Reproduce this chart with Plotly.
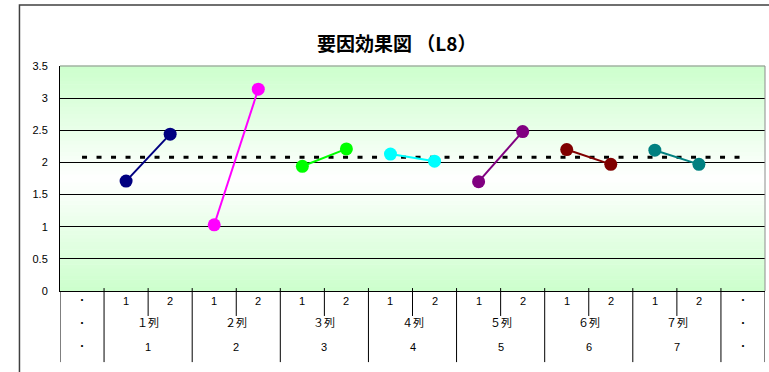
import plotly.graph_objects as go

# ---- data ----
factor_names = ["１列", "２列", "３列", "４列", "５列", "６列", "７列"]
factor_numbers = ["1", "2", "3", "4", "5", "6", "7"]
level_labels = ["1", "2"]
level1_values = [1.71, 1.03, 1.94, 2.13, 1.70, 2.20, 2.19]
level2_values = [2.44, 3.14, 2.21, 2.02, 2.48, 1.97, 1.97]
grand_mean = 2.08
edge_label = "・"
series_colors = ["#000080", "#FF00FF", "#00FF00", "#00FFFF", "#800080", "#800000", "#008080"]
title_text = "要因効果図 （L8）"

FONT = "Liberation Sans, Arial, Noto Sans CJK JP, sans-serif"
CJK = "Noto Sans CJK JP, Liberation Sans, sans-serif"

n_factors = len(factor_names)
n_slots = 2 * n_factors + 2
slots = list(range(n_slots))

fig = go.Figure()

# grand mean dashed line across all category slots
fig.add_trace(go.Scatter(
    x=slots, y=[grand_mean] * n_slots, mode="lines",
    line=dict(color="black", width=3, dash="5px,9.5px"),
    hoverinfo="skip", showlegend=False))

for i in range(n_factors):
    fig.add_trace(go.Scatter(
        x=[1 + 2 * i, 2 + 2 * i],
        y=[level1_values[i], level2_values[i]],
        mode="lines+markers",
        line=dict(color=series_colors[i], width=2),
        marker=dict(color=series_colors[i], size=13),
        showlegend=False, name=factor_names[i]))

shapes = []
# vertical gradient background (green edges, white centre)
nb = 60
for k in range(nb):
    t0, t1 = k / nb, (k + 1) / nb
    tm = (t0 + t1) / 2
    f = abs(tm - 0.5) * 2  # 0 at centre, 1 at edges
    r = round(255 - (255 - 204) * f)
    shapes.append(dict(type="rect", xref="x domain", yref="y domain",
                       x0=0, x1=1, y0=t0, y1=t1 + 0.002, layer="below",
                       fillcolor=f"rgb({r},255,{r})", line=dict(width=0)))

# plot area top/right border (grey)
shapes.append(dict(type="line", xref="x domain", yref="y domain", x0=0, x1=1, y0=1, y1=1,
                   line=dict(color="#8c8c8c", width=1), layer="above"))
shapes.append(dict(type="line", xref="x domain", yref="y domain", x0=1, x1=1, y0=0, y1=1,
                   line=dict(color="#8c8c8c", width=1), layer="above"))

# category table dividers
for s in range(n_slots + 1):
    xpos = s - 0.5
    if s == 0 or s == n_slots:
        y0, y1 = 0, -0.316
    elif s % 2 == 1:
        y0, y1 = 0.013, -0.316
    else:
        y0, y1 = 0.013, -0.111
    shapes.append(dict(type="line", xref="x", yref="y domain", x0=xpos, x1=xpos,
                       y0=y0, y1=y1, line=dict(color="black", width=1), layer="above"))

# outer chart border
shapes.append(dict(type="rect", xref="paper", yref="paper", x0=-0.0575, x1=1.2,
                   y0=-0.6, y1=1.271, line=dict(color="#404040", width=1.5),
                   fillcolor="rgba(0,0,0,0)", layer="above"))

annotations = []
row_y = [-0.08, -0.182, -0.284]
for r_i, yy in enumerate(row_y):
    annotations.append(dict(x=0, y=yy, xref="x", yref="paper", text=edge_label,
                            showarrow=False, font=dict(family=CJK, size=10, color="black")))
    annotations.append(dict(x=n_slots - 1, y=yy, xref="x", yref="paper", text=edge_label,
                            showarrow=False, font=dict(family=CJK, size=10, color="black")))
for i in range(n_factors):
    for j, lab in enumerate(level_labels):
        annotations.append(dict(x=1 + 2 * i + j, y=row_y[0], xref="x", yref="paper", text=lab,
                                showarrow=False, font=dict(family=FONT, size=11, color="black")))
    annotations.append(dict(x=1.5 + 2 * i, y=row_y[1], xref="x", yref="paper", text=factor_names[i],
                            showarrow=False, font=dict(family=CJK, size=11, color="black")))
    annotations.append(dict(x=1.5 + 2 * i, y=row_y[2], xref="x", yref="paper", text=factor_numbers[i],
                            showarrow=False, font=dict(family=FONT, size=11, color="black")))

annotations.append(dict(x=0.478, y=1.173, xref="paper", yref="paper", text="<b>" + title_text + "</b>",
                        showarrow=False, font=dict(family=CJK, size=19, color="black")))

fig.update_layout(
    width=769, height=372,
    margin=dict(l=60, r=4, t=66, b=81),
    paper_bgcolor="white", plot_bgcolor="white",
    shapes=shapes, annotations=annotations,
    xaxis=dict(range=[-0.5, n_slots - 0.5], showticklabels=False, showgrid=False,
               zeroline=False, showline=True, linecolor="black", linewidth=1, fixedrange=True),
    yaxis=dict(range=[0, 3.5], dtick=0.5, showgrid=True, gridcolor="black", gridwidth=1,
               zeroline=False, showline=True, linecolor="black", linewidth=1,
               ticks="", ticklabelstandoff=9,
               tickfont=dict(family=FONT, size=11, color="black"), fixedrange=True),
)

fig.write_html("out.html")
